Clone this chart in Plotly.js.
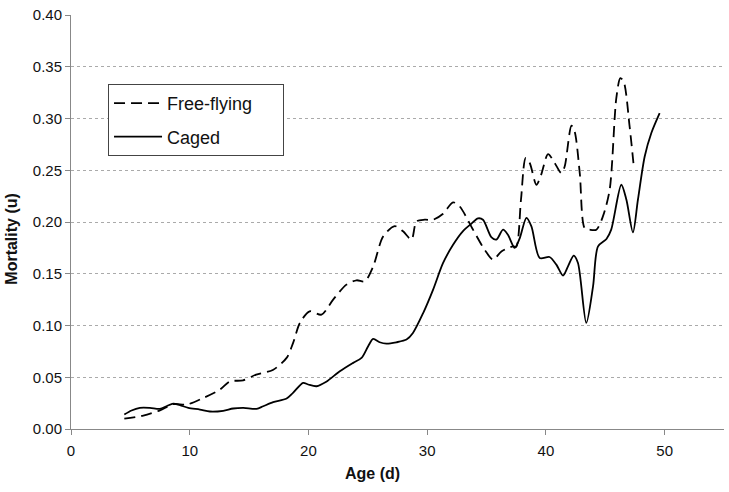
<!DOCTYPE html>
<html>
<head>
<meta charset="utf-8">
<script src="https://cdn.plot.ly/plotly-3.0.1.min.js"></script>
<style>html,body{margin:0;padding:0;background:#fff;}#chart{width:729px;height:492px;}</style>
</head>
<body>
<div id="chart"></div>
<script>
var freeAge = [4.49, 6.09, 7.49, 8.61, 9.74, 11.14, 12.54, 13.38, 14.5, 15.6, 17.0, 18.16, 18.7, 19.28, 20.1, 21.1, 22.08, 23.2, 24.05, 24.75, 25.45, 26.29, 27.27, 27.97, 28.68, 29.1, 29.8, 30.5, 31.34, 32.18, 32.74, 33.86, 34.85, 35.55, 36.25, 37.23, 37.5, 37.9, 38.3, 38.64, 39.2, 39.6, 40.18, 40.74, 41.3, 41.58, 42.15, 42.42, 42.85, 43.27, 43.69, 44.25, 44.8, 45.37, 45.93, 46.27, 46.55, 47.05, 47.4];
var freeMort = [0.010, 0.013, 0.018, 0.024, 0.0236, 0.030, 0.038, 0.046, 0.047, 0.0526, 0.057, 0.0687, 0.083, 0.1025, 0.1137, 0.1105, 0.125, 0.1395, 0.1437, 0.1427, 0.157, 0.186, 0.196, 0.191, 0.183, 0.2006, 0.2022, 0.2022, 0.208, 0.219, 0.215, 0.1926, 0.173, 0.1636, 0.1716, 0.1765, 0.176, 0.2215, 0.262, 0.257, 0.236, 0.2457, 0.2656, 0.257, 0.2473, 0.2537, 0.293, 0.2875, 0.2473, 0.194, 0.1926, 0.1926, 0.2054, 0.2312, 0.3197, 0.339, 0.3357, 0.2923, 0.2537];

var cagedAge = [4.49, 5.1, 5.8, 6.65, 7.49, 8.05, 8.61, 9.18, 9.88, 10.86, 11.7, 12.82, 13.66, 14.5, 15.63, 16.19, 17.03, 18.16, 18.7, 19.55, 19.98, 20.68, 21.5, 22.64, 23.76, 24.47, 25.03, 25.45, 26.0, 26.57, 27.4, 28.26, 28.8, 29.66, 30.5, 31.34, 32.18, 33.0, 33.73, 34.28, 34.7, 35.4, 35.83, 36.39, 36.8, 37.37, 37.8, 38.36, 38.78, 39.48, 40.3, 40.88, 41.44, 41.86, 42.34, 42.7, 43.4, 43.97, 44.39, 45.1, 45.5, 46.35, 46.78, 47.33, 47.75, 48.32, 48.88, 49.58];
var cagedMort = [0.014, 0.0179, 0.0204, 0.0204, 0.0195, 0.022, 0.0246, 0.023, 0.0204, 0.0188, 0.0169, 0.0176, 0.0198, 0.0204, 0.0195, 0.022, 0.0259, 0.0294, 0.0349, 0.0446, 0.043, 0.0413, 0.0456, 0.0558, 0.0639, 0.0687, 0.080, 0.087, 0.0838, 0.0825, 0.0838, 0.0864, 0.0928, 0.112, 0.1347, 0.1604, 0.178, 0.191, 0.1984, 0.2035, 0.2022, 0.1855, 0.183, 0.1926, 0.1877, 0.175, 0.1845, 0.204, 0.1958, 0.1652, 0.1662, 0.1588, 0.1482, 0.1571, 0.1675, 0.1604, 0.1025, 0.1378, 0.1765, 0.1836, 0.1926, 0.236, 0.2215, 0.190, 0.2215, 0.2633, 0.286, 0.3052];

var seriesNames = ["Free-flying", "Caged"];
var yTicks = [0, 0.05, 0.10, 0.15, 0.20, 0.25, 0.30, 0.35, 0.40];
var yTickText = ["0.00", "0.05", "0.10", "0.15", "0.20", "0.25", "0.30", "0.35", "0.40"];
var xTicks = [0, 10, 20, 30, 40, 50];
var xTitle = "Age (d)";
var yTitle = "Mortality (u)";

var pad = "\u00a0\u00a0\u00a0\u00a0\u00a0";
var traces = [
  {x: freeAge, y: freeMort, name: seriesNames[0] + pad, type: "scatter", mode: "lines",
   line: {color: "#000", width: 1.8, dash: "11px,6px", shape: "spline", smoothing: 0.8}, legendgroup: "a"},
  {x: cagedAge, y: cagedMort, name: seriesNames[1], type: "scatter", mode: "lines",
   line: {color: "#000", width: 1.8, shape: "spline", smoothing: 0.8}, legendgroup: "b"}
];

var layout = {
  width: 729, height: 492,
  margin: {l: 71, r: 5, t: 15, b: 62.5},
  paper_bgcolor: "#fff", plot_bgcolor: "#fff",
  font: {family: "Liberation Sans, Arial, sans-serif", color: "#111"},
  showlegend: true,
  legend: {
    x: 0.0567, y: 0.8335, xanchor: "left", yanchor: "top",
    bordercolor: "#444", borderwidth: 1, bgcolor: "#fff",
    font: {size: 18, color: "#111"},
    tracegroupgap: 7, traceorder: "grouped",
    itemwidth: 48
  },
  xaxis: {
    range: [0, 55], tickvals: xTicks, ticks: "outside", ticklen: 5, tickcolor: "#888",
    showline: true, linecolor: "#888", linewidth: 1, showgrid: false, zeroline: false,
    tickfont: {size: 15, color: "#111"}, ticklabelstandoff: 3
  },
  yaxis: {
    range: [0, 0.40], tickvals: yTicks, ticktext: yTickText, ticks: "outside", ticklen: 5, tickcolor: "#888",
    showline: true, linecolor: "#888", linewidth: 1, showgrid: true, gridcolor: "#aaa", griddash: "dot", gridwidth: 1,
    zeroline: false, tickfont: {size: 15, color: "#111"}
  },
  annotations: [
    {text: "<b>" + xTitle + "</b>", xref: "paper", yref: "paper", x: 0.461, y: -0.107,
     xanchor: "center", yanchor: "middle", showarrow: false, font: {size: 16, color: "#111"}},
    {text: "<b>" + yTitle + "</b>", xref: "paper", yref: "paper", x: -0.0904, y: 0.4596,
     xanchor: "center", yanchor: "middle", textangle: -90, showarrow: false, font: {size: 16, color: "#111"}}
  ]
};

Plotly.newPlot("chart", traces, layout, {displayModeBar: false, staticPlot: true});
</script>
</body>
</html>
